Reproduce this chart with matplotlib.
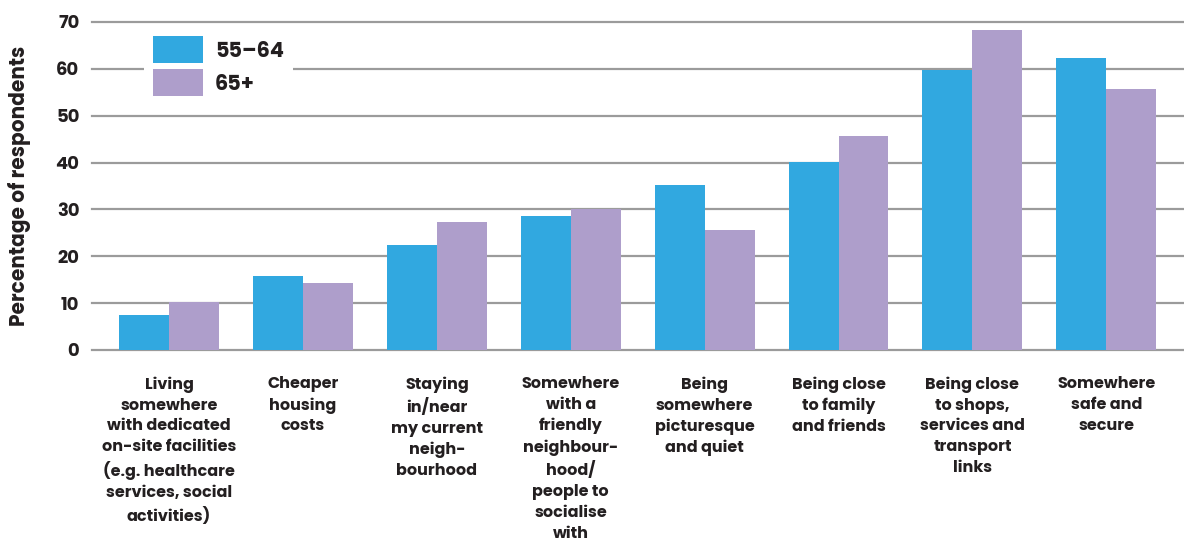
import matplotlib
matplotlib.use("Agg")
import matplotlib.pyplot as plt
from matplotlib.patches import Patch
import numpy as np

categories = [
    "Living\nsomewhere\nwith dedicated\non-site facilities\n(e.g. healthcare\nservices, social\nactivities)",
    "Cheaper\nhousing\ncosts",
    "Staying\nin/near\nmy current\nneigh-\nbourhood",
    "Somewhere\nwith a\nfriendly\nneighbour-\nhood/\npeople to\nsocialise\nwith",
    "Being\nsomewhere\npicturesque\nand quiet",
    "Being close\nto family\nand friends",
    "Being close\nto shops,\nservices and\ntransport\nlinks",
    "Somewhere\nsafe and\nsecure",
]
series_names = ["55–64", "65+"]
values_55_64 = [7.5, 15.7, 22.4, 28.6, 35.2, 40.1, 59.8, 62.3]
values_65_plus = [10.3, 14.4, 27.4, 30.1, 25.6, 45.7, 68.3, 55.7]
yticks = [0, 10, 20, 30, 40, 50, 60, 70]

blue = "#31a8e0"
purple = "#ae9ecb"
ink = "#231f20"
grid = "#9b9b9b"

plt.rcParams["font.family"] = ["Poppins", "DejaVu Sans"]
WEIGHT = 700

W, H = 1184, 546
fig = plt.figure(figsize=(W / 100, H / 100), dpi=100)
ax = fig.add_axes([92 / W, (H - 350) / H, (W - 92) / W, 328 / H])

x = np.arange(len(categories))
bw = 0.373
ax.bar(x - bw / 2, values_55_64, bw, color=blue, zorder=3, linewidth=0)
ax.bar(x + bw / 2, values_65_plus, bw, color=purple, zorder=3, linewidth=0)

ax.set_xlim(-0.575, len(categories) - 1 + 0.58)
ax.set_ylim(0, 70)
ax.set_yticks(yticks)
ax.set_yticklabels([str(v) for v in yticks], fontsize=13, fontweight=WEIGHT, color=ink)
ax.yaxis.grid(True, color=grid, linewidth=1.6, zorder=1)
for gl in ax.get_ygridlines():
    gl.set_clip_on(False)
ax.tick_params(axis="y", length=0, pad=9)
ax.tick_params(axis="x", length=0, pad=19)
ax.set_xticks(x)
ax.set_xticklabels(categories, fontsize=11.5, fontweight=WEIGHT, color=ink,
                   linespacing=1.4, va="top")
for s in ax.spines.values():
    s.set_visible(False)
ax.set_axisbelow(True)

ax.set_ylabel("Percentage of respondents", fontsize=14.5, fontweight=WEIGHT, color=ink)
ax.yaxis.set_label_coords(-0.0555, 0.5)

handles = [Patch(facecolor=blue, edgecolor="none"), Patch(facecolor=purple, edgecolor="none")]
leg = ax.legend(handles, series_names, loc="upper left",
                bbox_to_anchor=((144 - 92) / (W - 92), 1 - 5 / 328),
                frameon=True, fancybox=False, framealpha=1, edgecolor="none",
                facecolor="white", prop={"size": 15, "weight": WEIGHT},
                handlelength=2.4, handleheight=1.6, labelspacing=0.3,
                handletextpad=0.55, borderpad=0.45, borderaxespad=0)
for t in leg.get_texts():
    t.set_color(ink)
leg.set_zorder(5)

fig.savefig("out.png", dpi=100, facecolor="white")
